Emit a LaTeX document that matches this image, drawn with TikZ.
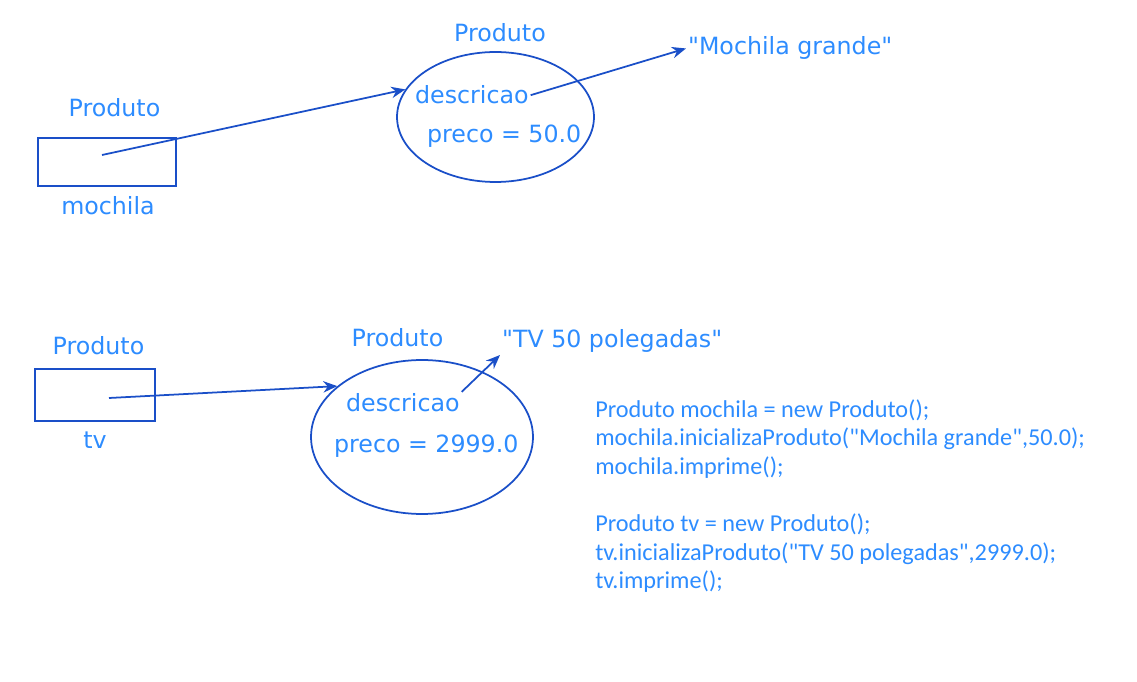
\documentclass[tikz,border=0pt]{standalone}
\usepackage{fontspec}
\newfontfamily\diagfont{DejaVu Sans}
\newfontfamily\codefont{Carlito}
\usetikzlibrary{arrows.meta,positioning,shapes.geometric}
\definecolor{txtblue}{HTML}{2D8CFF}
\definecolor{lineblue}{HTML}{1A4FC8}

\begin{document}
\begin{tikzpicture}[x=0.02cm, y=-0.02cm,
  font=\diagfont\fontsize{13.5}{16.2}\selectfont, text=txtblue,
  lbl/.style={anchor=base, inner sep=1pt},
  field/.style={anchor=base west, inner sep=1pt},
  ref/.style={draw=lineblue, line width=1pt, inner sep=0pt},
  obj/.style={draw=lineblue, line width=1pt, ellipse, inner sep=0pt},
  code/.style={font=\codefont\fontsize{13.8}{16.3}\selectfont,
               align=left, anchor=north west, inner sep=0pt},
  link/.style={draw=lineblue, line width=1pt,
               -{Stealth[length=8pt,width=6.5pt]}}]
\useasboundingbox (0,0) rectangle (1137,682);

% mochila
\node[ref, minimum width=2.76cm, minimum height=0.96cm] (mochila) at (107,162) {};
\node[lbl] (mochilaclass) at (114.5,117) {Produto};
\node[lbl] (mochilaname) at (108,215) {mochila};
\coordinate (mochilaref) at (102,155);
\node[obj, minimum width=3.94cm, minimum height=2.6cm] (obj1) at (495.5,117) {};
\node[lbl] (obj1class) at (500,42) {Produto};
\node[field] (desc1) at (413,104) {descricao};
\node[field] (preco1) at (425,143) {preco = 50.0};
\node[field] (str1) at (686,55) {"Mochila grande"};

% tv
\node[ref, minimum width=2.4cm, minimum height=1.04cm] (tv) at (95,395) {};
\node[lbl] (tvclass) at (98.5,355) {Produto};
\node[lbl] (tvname) at (95,449) {tv};
\coordinate (tvref) at (109,398);
\node[obj, minimum width=4.44cm, minimum height=3.08cm] (obj2) at (422,437) {};
\node[lbl] (obj2class) at (397.5,347) {Produto};
\node[field] (desc2) at (344,412) {descricao};
\node[field] (preco2) at (332,453) {preco = 2999.0};
\node[field] (str2) at (500,348) {"TV 50 polegadas"};

% references
\draw[link] (mochilaref) -- (obj1.163);
\draw[link] (desc1.east) -- (str1.west);
\draw[link] (tvref) -- (obj2.149);
\draw[link] (desc2.north east) -- (str2.south west);

% code
\node[code] (codigo) at (595,399)
  {Produto mochila = new Produto();\\
   mochila.inicializaProduto("Mochila grande",50.0);\\
   mochila.imprime();\\[16.3pt]
   Produto tv = new Produto();\\
   tv.inicializaProduto("TV 50 polegadas",2999.0);\\
   tv.imprime();};
\end{tikzpicture}
\end{document}
